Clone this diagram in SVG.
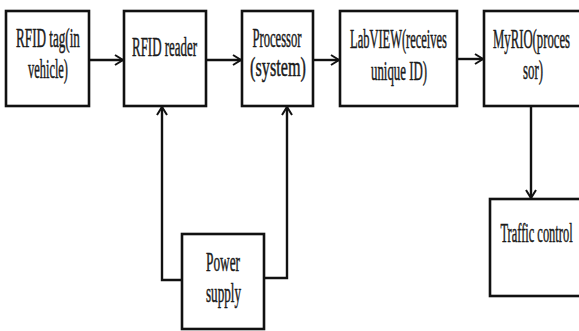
<svg xmlns="http://www.w3.org/2000/svg" width="579" height="331" viewBox="0 0 579 331">
<style>
.box{fill:#fff;stroke:#111;stroke-width:2.6}
.lbl{font-family:"Liberation Serif","Times New Roman",serif;font-size:27px;fill:#1a1a1a;stroke:#1a1a1a;stroke-width:0.5;text-anchor:middle}
.con{fill:none;stroke:#111;stroke-width:2.4}
</style>
<defs>
<marker id="ah" markerUnits="userSpaceOnUse" markerWidth="12" markerHeight="14" refX="9" refY="6" orient="auto">
<path d="M1,1 L9,6 L1,11" fill="none" stroke="#111" stroke-width="2"/>
</marker>
</defs>
<rect width="579" height="331" fill="#fff"/>
<g id="connectors">
<line class="con" x1="89" y1="60" x2="123" y2="60" marker-end="url(#ah)"/>
<line class="con" x1="206" y1="60" x2="241" y2="60" marker-end="url(#ah)"/>
<line class="con" x1="313" y1="60" x2="339" y2="60" marker-end="url(#ah)"/>
<line class="con" x1="457" y1="59" x2="483" y2="59" marker-end="url(#ah)"/>
<polyline class="con" points="181,280 162,280 162,107" marker-end="url(#ah)"/>
<polyline class="con" points="265,278 287,278 287,107" marker-end="url(#ah)"/>
<line class="con" x1="531" y1="106" x2="531" y2="198" marker-end="url(#ah)"/>
</g>
<g id="rfid-tag">
<rect class="box" x="6" y="11" width="83" height="95"/>
<text class="lbl" transform="translate(48,47) scale(0.487,1)">RFID tag(in</text>
<text class="lbl" transform="translate(48,78) scale(0.46,1)">vehicle)</text>
</g>
<g id="rfid-reader">
<rect class="box" x="124" y="11" width="82" height="95"/>
<text class="lbl" transform="translate(164.5,56) scale(0.479,1)">RFID reader</text>
</g>
<g id="processor">
<rect class="box" x="242" y="11" width="71" height="95"/>
<text class="lbl" transform="translate(277,47) scale(0.467,1)">Processor</text>
<text class="lbl" transform="translate(278,76) scale(0.6,1)">(system)</text>
</g>
<g id="labview">
<rect class="box" x="340" y="11" width="117" height="95"/>
<text class="lbl" transform="translate(398.5,48) scale(0.462,1)">LabVIEW(receives</text>
<text class="lbl" transform="translate(399,80) scale(0.476,1)">unique ID)</text>
</g>
<g id="myrio">
<rect class="box" x="484" y="11" width="100" height="95"/>
<text class="lbl" transform="translate(531.5,48) scale(0.471,1)">MyRIO(proces</text>
<text class="lbl" transform="translate(533,79) scale(0.477,1)">sor)</text>
</g>
<g id="traffic-control">
<rect class="box" x="490" y="199" width="96" height="97"/>
<text class="lbl" transform="translate(536.5,242) scale(0.461,1)">Traffic control</text>
</g>
<g id="power-supply">
<rect class="box" x="182" y="234" width="82" height="95"/>
<text class="lbl" transform="translate(223,271) scale(0.493,1)">Power</text>
<text class="lbl" transform="translate(223.5,302) scale(0.486,1)">supply</text>
</g>
</svg>
